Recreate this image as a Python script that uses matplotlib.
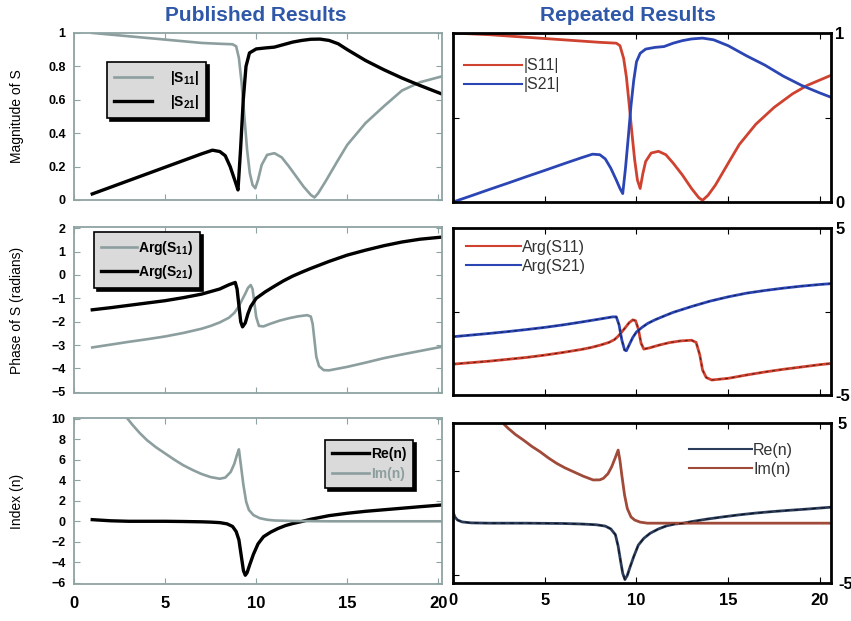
import matplotlib
matplotlib.use('Agg')
import matplotlib.pyplot as plt

plt.rcParams['font.family'] = ['Liberation Sans', 'DejaVu Sans']
plt.rcParams['mathtext.fontset'] = 'custom'
plt.rcParams['mathtext.rm'] = 'Liberation Sans'
plt.rcParams['mathtext.bf'] = 'Liberation Sans:bold'
plt.rcParams['mathtext.it'] = 'Liberation Sans:italic'

# ---- published results (left column) ----
pub_s21_x = [1.0, 2, 3, 4, 5, 6, 7, 7.6, 8.0, 8.3, 8.57, 8.85, 9.0, 9.14, 9.29, 9.44, 9.63, 10.0,
             10.5, 11.0, 11.5, 12.0, 12.5, 13.0, 13.5, 14.0, 14.5, 15.0, 16.0, 17.0, 18.0, 19.0, 20.2]
pub_s21_y = [0.036, 0.076, 0.116, 0.156, 0.196, 0.236, 0.276, 0.298, 0.29, 0.265, 0.2, 0.11, 0.06, 0.3,
             0.6, 0.8, 0.88, 0.904, 0.91, 0.915, 0.93, 0.945, 0.955, 0.962, 0.963, 0.955, 0.935, 0.9,
             0.835, 0.78, 0.73, 0.685, 0.634]
pub_s11_x = [1.0, 2, 3, 4, 5, 6, 7, 8, 8.7, 8.9, 9.05, 9.2, 9.35, 9.5, 9.65, 9.8, 9.95, 10.1, 10.3,
             10.6, 11.0, 11.4, 11.8, 12.2, 12.6, 13.0, 13.2, 13.4, 13.8, 14.5, 15.0, 16.0, 17.0, 18.0,
             19.0, 20.2]
pub_s11_y = [1.0, 0.99, 0.98, 0.97, 0.96, 0.95, 0.94, 0.935, 0.932, 0.92, 0.85, 0.7, 0.5, 0.3, 0.16,
             0.09, 0.07, 0.12, 0.21, 0.27, 0.28, 0.255, 0.2, 0.14, 0.08, 0.03, 0.015, 0.04, 0.11, 0.24,
             0.33, 0.46, 0.56, 0.655, 0.705, 0.74]

pub_a21_x = [1.0, 2, 3, 4, 5, 6, 7, 8, 8.5, 8.85, 8.95, 9.05, 9.15, 9.25, 9.4, 9.55, 9.7, 10.0, 10.5,
             11.0, 11.5, 12.0, 12.5, 13.0, 14.0, 15.0, 16.0, 17.0, 18.0, 19.0, 20.2]
pub_a21_y = [-1.49, -1.4, -1.3, -1.2, -1.1, -0.97, -0.82, -0.6, -0.42, -0.32, -0.6, -1.3, -2.0, -2.22,
             -2.05, -1.65, -1.35, -1.0, -0.72, -0.48, -0.25, -0.05, 0.12, 0.28, 0.58, 0.85, 1.06,
             1.25, 1.41, 1.53, 1.62]
pub_a11_x = [1.0, 2, 3, 4, 5, 6, 7, 7.5, 8.0, 8.5, 8.8, 9.0, 9.2, 9.4, 9.55, 9.7, 9.8, 9.9, 10.0,
             10.15, 10.4, 10.8, 11.3, 11.8, 12.3, 12.8, 13.0, 13.1, 13.2, 13.3, 13.45, 13.7, 14.0,
             15.0, 16.0, 17.0, 18.0, 19.0, 20.2]
pub_a11_y = [-3.1, -2.98, -2.86, -2.75, -2.63, -2.48, -2.3, -2.18, -2.03, -1.83, -1.62, -1.4, -1.1,
             -0.8, -0.55, -0.43, -0.6, -1.2, -1.8, -2.18, -2.2, -2.08, -1.95, -1.85, -1.77, -1.72,
             -1.78, -2.1, -2.8, -3.5, -3.9, -4.07, -4.08, -3.93, -3.75, -3.56, -3.4, -3.25, -3.07]

pub_re_x = [1.0, 2, 3, 4, 5, 6, 7, 7.5, 8.0, 8.4, 8.7, 8.9, 9.05, 9.2, 9.3, 9.4, 9.5, 9.65, 9.85,
            10.1, 10.4, 10.8, 11.2, 11.6, 12.0, 12.5, 13.0, 14.0, 15.0, 16.0, 17.0, 18.0, 19.0, 20.2]
pub_re_y = [0.16, 0.05, 0.0, 0.0, 0.0, -0.02, -0.05, -0.08, -0.13, -0.25, -0.5, -1.0, -1.8, -3.6,
            -4.8, -5.25, -5.0, -4.2, -3.2, -2.2, -1.5, -1.05, -0.7, -0.42, -0.22, -0.02, 0.2, 0.55,
            0.78, 0.97, 1.12, 1.27, 1.42, 1.59]
pub_im_x = [2.93, 3.2, 3.6, 4.0, 4.5, 5.0, 5.5, 6.0, 6.5, 7.0, 7.5, 8.0, 8.3, 8.6, 8.8, 8.95, 9.05,
            9.15, 9.3, 9.45, 9.6, 9.85, 10.2, 10.6, 11.0, 12.0, 14.0, 20.2]
pub_im_y = [10.0, 9.4, 8.6, 7.9, 7.2, 6.6, 6.0, 5.45, 5.0, 4.6, 4.3, 4.14, 4.25, 4.8, 5.6, 6.5, 7.0,
            5.6, 3.5, 1.9, 1.1, 0.6, 0.3, 0.15, 0.08, 0.03, 0.0, 0.0]

# ---- repeated results (right column) ----
rep_s21_x = [0.0, 1, 2, 3, 4, 5, 6, 7, 7.6, 8.0, 8.3, 8.6, 8.9, 9.1, 9.25, 9.4, 9.55, 9.7, 9.85,
             10.0, 10.2, 10.5, 11.0, 11.5, 12.0, 12.5, 13.0, 13.6, 14.2, 15.0, 16.0, 17.0, 18.0,
             19.0, 20.0, 20.6]
rep_s21_y = [0.0, 0.037, 0.075, 0.112, 0.15, 0.187, 0.225, 0.262, 0.283, 0.28, 0.255, 0.2, 0.13,
             0.08, 0.05, 0.2, 0.38, 0.57, 0.72, 0.83, 0.88, 0.905, 0.915, 0.92, 0.94, 0.955, 0.965,
             0.97, 0.96, 0.925, 0.865, 0.81, 0.745, 0.69, 0.645, 0.62]
rep_s11_x = [0.0, 2, 4, 6, 8, 8.9, 9.1, 9.3, 9.45, 9.6, 9.75, 9.9, 10.05, 10.2, 10.35, 10.5, 10.8,
             11.2, 11.6, 12.0, 12.5, 13.0, 13.4, 13.6, 13.9, 14.3, 15.0, 15.6, 16.5, 17.5, 18.5,
             19.3, 20.6]
rep_s11_y = [1.0, 0.99, 0.975, 0.96, 0.945, 0.94, 0.925, 0.85, 0.74, 0.58, 0.41, 0.25, 0.13, 0.08,
             0.17, 0.24, 0.29, 0.30, 0.28, 0.23, 0.16, 0.08, 0.025, 0.01, 0.04, 0.1, 0.23, 0.34,
             0.46, 0.56, 0.64, 0.69, 0.75]

rep_a21_x = [0.0, 1, 2, 3, 4, 5, 6, 7, 8, 8.7, 8.9, 9.05, 9.2, 9.35, 9.45, 9.6, 9.8, 10.0, 10.3,
             10.6, 11.0, 11.5, 12.0, 13.0, 14.0, 15.0, 16.0, 17.0, 18.0, 19.0, 20.0, 20.6]
rep_a21_y = [-1.51, -1.41, -1.31, -1.2, -1.08, -0.95, -0.8, -0.63, -0.45, -0.32, -0.32, -0.8, -1.7,
             -2.3, -2.35, -2.0, -1.55, -1.22, -0.95, -0.72, -0.5, -0.27, -0.05, 0.3, 0.62, 0.88,
             1.1, 1.26, 1.4, 1.52, 1.62, 1.67]
rep_a11_x = [0.0, 1, 2, 3, 4, 5, 6, 7, 7.5, 8.0, 8.5, 8.8, 9.0, 9.2, 9.4, 9.6, 9.8, 9.95, 10.1,
             10.25, 10.4, 10.7, 11.2, 11.8, 12.4, 13.0, 13.25, 13.45, 13.6, 13.8, 14.1, 15.0, 16.0,
             17.0, 18.0, 19.0, 20.0, 20.6]
rep_a11_y = [-3.15, -3.06, -2.97, -2.86, -2.75, -2.61, -2.45, -2.27, -2.16, -2.02, -1.85, -1.68,
             -1.48, -1.22, -0.95, -0.67, -0.5, -0.55, -1.05, -1.9, -2.25, -2.18, -2.02, -1.86,
             -1.76, -1.72, -1.85, -2.6, -3.5, -3.95, -4.1, -4.0, -3.8, -3.62, -3.46, -3.32, -3.18,
             -3.11]

rep_re_x = [0.0, 0.1, 0.25, 0.5, 1.0, 2, 4, 6, 7, 7.8, 8.3, 8.6, 8.85, 9.0, 9.15, 9.25, 9.37, 9.5,
            9.65, 9.85, 10.1, 10.4, 10.75, 11.2, 11.65, 12.1, 12.56, 13.0, 13.8, 14.7, 15.6, 16.5,
            17.4, 18.3, 19.2, 20.0, 20.6]
rep_re_y = [1.1, 0.6, 0.3, 0.12, 0.03, 0.0, 0.0, -0.03, -0.08, -0.15, -0.28, -0.55, -1.1, -2.2,
            -3.8, -4.8, -5.4, -5.0, -4.2, -3.2, -2.1, -1.45, -0.96, -0.55, -0.25, -0.08, 0.0, 0.15,
            0.38, 0.6, 0.8, 0.97, 1.11, 1.23, 1.34, 1.45, 1.53]
rep_im_x = [2.74, 3.0, 3.4, 3.84, 4.3, 4.74, 5.2, 5.65, 6.1, 6.55, 7.1, 7.64, 8.0, 8.2, 8.45, 8.65,
            8.85, 9.0, 9.1, 9.2, 9.35, 9.5, 9.7, 9.9, 10.2, 10.6, 20.6]
rep_im_y = [9.55, 9.1, 8.5, 7.96, 7.35, 6.85, 6.25, 5.73, 5.3, 4.94, 4.5, 4.14, 4.15, 4.3, 4.75,
            5.41, 6.3, 7.0, 6.0, 4.6, 2.7, 1.4, 0.6, 0.3, 0.1, 0.0, 0.0]

GRAY = '#8c9e9e'
FRAME = '#8fa3a3'
RED = '#cf4230'
BLUE = '#2b46b4'
NAVY = '#2c3d5c'
BROWN = '#a04a3a'
TITLE = '#2f58a8'

fig = plt.figure(figsize=(8.51, 6.21), dpi=100)

L, LW = 0.087, 0.4324
R, RW = 0.5323, 0.4442
ax1 = fig.add_axes([L, 0.678, LW, 0.269])
ax2 = fig.add_axes([L, 0.3671, LW, 0.2673])
ax3 = fig.add_axes([L, 0.0596, LW, 0.2673])
bx1 = fig.add_axes([R, 0.6747, RW, 0.2721])
bx2 = fig.add_axes([R, 0.3639, RW, 0.2689])
bx3 = fig.add_axes([R, 0.0612, RW, 0.2577])


def style_left(ax, show_x):
    ax.set_xlim(0, 20.2)
    ax.set_xticks([0, 5, 10, 15, 20])
    for s in ax.spines.values():
        s.set_color(FRAME)
        s.set_linewidth(1.3)
    ax.tick_params(direction='in', top=True, right=True, length=4, color=FRAME,
                   labelsize=9, pad=6)
    ax.tick_params(axis='x', labelsize=12, pad=9, labelbottom=show_x)
    for lbl in ax.get_xticklabels() + ax.get_yticklabels():
        lbl.set_fontweight('bold')
    ax.yaxis.set_label_coords(-0.135, 0.5)


def style_right(ax, show_x):
    ax.set_xlim(0, 20.6)
    ax.set_xticks([0, 5, 10, 15, 20])
    for s in ax.spines.values():
        s.set_color('black')
        s.set_linewidth(2)
    ax.tick_params(direction='in', top=True, right=True, left=True, length=4,
                   labelleft=False, labelright=True, labelsize=12, pad=3)
    ax.tick_params(axis='x', pad=7, labelbottom=show_x)
    for lbl in ax.get_xticklabels() + ax.get_yticklabels():
        lbl.set_fontweight('bold')


def box_legend(ax, anchor, hl, tp):
    leg = ax.legend(loc='upper left', bbox_to_anchor=anchor, borderaxespad=0,
                    fancybox=False, framealpha=1, facecolor='#dadada', edgecolor='black',
                    prop={'size': 10, 'weight': 'bold'}, handlelength=hl, handletextpad=tp,
                    labelspacing=0.45, borderpad=0.5,
                    shadow={'ox': 2, 'oy': -2, 'color': 'black', 'alpha': 1})
    leg.get_frame().set_linewidth(1.2)
    return leg


def plain_legend(ax, anchor, hl):
    leg = ax.legend(loc='upper left', bbox_to_anchor=anchor, borderaxespad=0, frameon=False,
                    prop={'size': 11.5}, handlelength=hl, handletextpad=0.1,
                    labelspacing=0.25, borderpad=0)
    for t in leg.get_texts():
        t.set_color('#333333')
    for h in leg.get_lines():
        h.set_linewidth(1.5)
    return leg


# top left: magnitude
ax1.plot(pub_s11_x, pub_s11_y, color=GRAY, lw=1.9, label=r'$\mathbf{|S_{11}|}$')
ax1.plot(pub_s21_x, pub_s21_y, color='black', lw=2.4, label=r'$\mathbf{|S_{21}|}$')
ax1.set_ylim(0, 1)
ax1.set_yticks([0, 0.2, 0.4, 0.6, 0.8, 1])
ax1.set_yticklabels(['0', '0.2', '0.4', '0.6', '0.8', '1'])
ax1.set_ylabel('Magnitude of S', fontsize=10)
style_left(ax1, False)
box_legend(ax1, (0.09, 0.826), 2.7, 1.3)

# middle left: phase
ax2.plot(pub_a11_x, pub_a11_y, color=GRAY, lw=1.9, label=r'$\mathbf{Arg(S_{11})}$')
ax2.plot(pub_a21_x, pub_a21_y, color='black', lw=2.4, label=r'$\mathbf{Arg(S_{21})}$')
ax2.set_ylim(-5.05, 2.05)
ax2.set_yticks(range(-5, 3))
ax2.set_ylabel('Phase of S (radians)', fontsize=10)
style_left(ax2, False)
box_legend(ax2, (0.054, 0.97), 2.6, 0.1)

# bottom left: index
ax3.plot(pub_re_x, pub_re_y, color='black', lw=2.4, label='Re(n)')
ax3.plot(pub_im_x, pub_im_y, color=GRAY, lw=1.9, label='Im(n)')
ax3.set_ylim(-6.1, 10.05)
ax3.set_yticks(range(-6, 11, 2))
ax3.set_ylabel('Index (n)', fontsize=10)
style_left(ax3, True)
leg3 = box_legend(ax3, (0.682, 0.867), 2.7, 0.1)
leg3.get_texts()[1].set_color(GRAY)

# top right: magnitude
bx1.plot(rep_s11_x, rep_s11_y, color=RED, lw=2, label='|S11|')
bx1.plot(rep_s21_x, rep_s21_y, color=BLUE, lw=2, label='|S21|')
bx1.set_ylim(0, 1)
bx1.set_yticks([0, 0.5, 1])
bx1.set_yticklabels(['0', '', '1'])
style_right(bx1, False)
plain_legend(bx1, (0.03, 0.85), 3.6)

# middle right: phase
bx2.plot(rep_a11_x, rep_a11_y, color=RED, lw=2, label='Arg(S11)')
bx2.plot(rep_a21_x, rep_a21_y, color=BLUE, lw=2, label='Arg(S21)')
bx2.plot(rep_a11_x, rep_a11_y, color='black', lw=0.7, ls=(0, (3, 4)), alpha=0.6)
bx2.plot(rep_a21_x, rep_a21_y, color='black', lw=0.7, ls=(0, (3, 4)), alpha=0.6)
bx2.set_ylim(-5, 5)
bx2.set_yticks([-5, 0, 5])
bx2.set_yticklabels(['-5', '', '5'])
style_right(bx2, False)
plain_legend(bx2, (0.035, 0.93), 3.4)

# bottom right: index
bx3.plot(rep_re_x, rep_re_y, color=NAVY, lw=2, label='Re(n)')
bx3.plot(rep_im_x, rep_im_y, color=BROWN, lw=2, label='Im(n)')
bx3.plot(rep_re_x, rep_re_y, color='black', lw=0.8, ls=(0, (4, 4)), alpha=0.7)
bx3.set_ylim(-5.73, 9.6)
bx3.set_yticks([-5, 5])
style_right(bx3, True)
bx3.tick_params(axis='y', labelright=False)
plain_legend(bx3, (0.625, 0.875), 3.9)
tw = bx3.twinx()
tw.set_ylim(-5, 5)
tw.set_yticks([-5, 5])
tw.set_yticklabels(['-5', '5'])
tw.tick_params(length=0, labelsize=12, pad=5)
for lbl in tw.get_yticklabels():
    lbl.set_fontweight('bold')
for s in tw.spines.values():
    s.set_visible(False)

fig.text(0.30, 0.975, 'Published Results', color=TITLE, fontsize=15, fontweight='bold',
         ha='center', va='center')
fig.text(0.738, 0.975, 'Repeated Results', color=TITLE, fontsize=15, fontweight='bold',
         ha='center', va='center')

fig.savefig('out.png', dpi=100)
